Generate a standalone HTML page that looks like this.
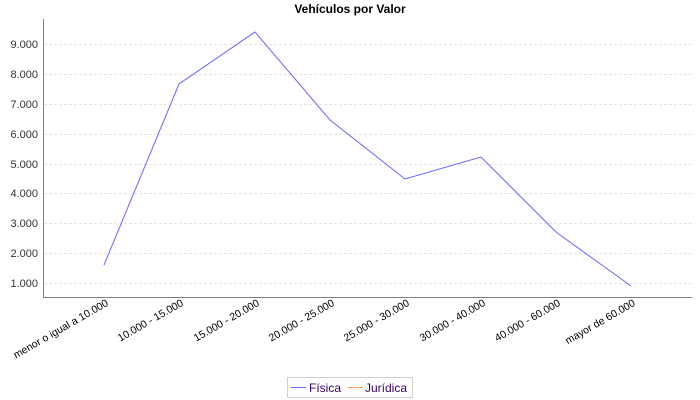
<!DOCTYPE html>
<html><head><meta charset="utf-8"><style>body{margin:0;background:#fff}svg{display:block}</style></head><body>
<svg width="700" height="400" xmlns="http://www.w3.org/2000/svg" font-family="Liberation Sans, sans-serif">
<rect width="700" height="400" fill="#fff"/>
<text x="350" y="13" text-anchor="middle" font-weight="bold" font-size="12">Vehículos por Valor</text>
<g stroke="#e4e4e4" stroke-dasharray="3,2" stroke-width="1">
<line x1="44" x2="692" y1="44.5" y2="44.5"/><line x1="44" x2="692" y1="74.5" y2="74.5"/>
<line x1="44" x2="692" y1="104.5" y2="104.5"/><line x1="44" x2="692" y1="134.5" y2="134.5"/>
<line x1="44" x2="692" y1="164.5" y2="164.5"/><line x1="44" x2="692" y1="193.5" y2="193.5"/>
<line x1="44" x2="692" y1="223.5" y2="223.5"/><line x1="44" x2="692" y1="253.5" y2="253.5"/>
<line x1="44" x2="692" y1="283.5" y2="283.5"/>
</g>
<g stroke="#808080" stroke-width="1"><line x1="43.5" y1="19" x2="43.5" y2="297"/><line x1="43" y1="297.5" x2="692" y2="297.5"/></g>
<g font-size="11" text-anchor="end" fill="#333">
<text x="38" y="48">9.000</text><text x="38" y="78">8.000</text><text x="38" y="108">7.000</text>
<text x="38" y="138">6.000</text><text x="38" y="168">5.000</text><text x="38" y="197">4.000</text>
<text x="38" y="227">3.000</text><text x="38" y="257">2.000</text><text x="38" y="287">1.000</text>
</g>
<polyline fill="none" stroke="#6666ff" stroke-width="1" points="104,265 179,84 255,32 330,120 405,179 481,157 556,232 631,286"/>
<g font-size="10.5" text-anchor="end" fill="#000">
<text transform="translate(109,305) rotate(-30)">menor o igual a 10.000</text>
<text transform="translate(184,305) rotate(-30)">10.000 - 15.000</text>
<text transform="translate(260,305) rotate(-30)">15.000 - 20.000</text>
<text transform="translate(335,305) rotate(-30)">20.000 - 25.000</text>
<text transform="translate(410,305) rotate(-30)">25.000 - 30.000</text>
<text transform="translate(486,305) rotate(-30)">30.000 - 40.000</text>
<text transform="translate(561,305) rotate(-30)">40.000 - 60.000</text>
<text transform="translate(636,305) rotate(-30)">mayor de 60.000</text>
</g>
<rect x="287.5" y="377.5" width="125" height="20" fill="#fff" stroke="#d0d0d0"/>
<rect x="291" y="387" width="15" height="1" fill="#6666ff"/>
<rect x="348" y="387" width="15" height="1" fill="#ff9955"/>
<g font-size="12" fill="#330066"><text x="309" y="392">Física</text><text x="365" y="392">Jurídica</text></g>
</svg>
</body></html>
